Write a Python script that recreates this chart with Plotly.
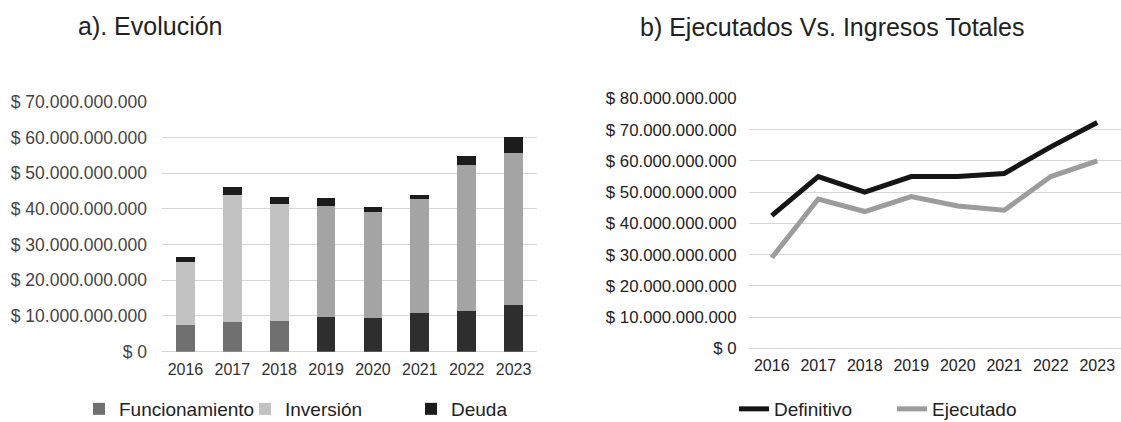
import plotly.graph_objects as go

# ---------------- data ----------------
years = ["2016", "2017", "2018", "2019", "2020", "2021", "2022", "2023"]

funcionamiento = [7.5e9, 8.2e9, 8.7e9, 9.8e9, 9.4e9, 10.8e9, 11.5e9, 13.0e9]
inversion = [17.7e9, 35.7e9, 32.6e9, 31.1e9, 29.6e9, 32.0e9, 40.8e9, 42.7e9]
deuda = [1.4e9, 2.3e9, 2.1e9, 2.1e9, 1.6e9, 1.1e9, 2.5e9, 4.3e9]

definitivo = [42.5e9, 55.0e9, 50.0e9, 55.0e9, 55.0e9, 56.0e9, 64.5e9, 72.3e9]
ejecutado = [29.0e9, 47.8e9, 43.8e9, 48.6e9, 45.6e9, 44.2e9, 55.0e9, 60.0e9]

left_ticks = [0, 10e9, 20e9, 30e9, 40e9, 50e9, 60e9, 70e9]
left_ticktext = ["$ 0", "$ 10.000.000.000", "$ 20.000.000.000", "$ 30.000.000.000",
                 "$ 40.000.000.000", "$ 50.000.000.000", "$ 60.000.000.000", "$ 70.000.000.000"]
right_ticks = [0, 10e9, 20e9, 30e9, 40e9, 50e9, 60e9, 70e9, 80e9]
right_ticktext = ["$ 0", "$ 10.000.000.000", "$ 20.000.000.000", "$ 30.000.000.000",
                  "$ 40.000.000.000", "$ 50.000.000.000", "$ 60.000.000.000",
                  "$ 70.000.000.000", "$ 80.000.000.000"]

title_a = "a). Evolución"
title_b = "b) Ejecutados Vs. Ingresos Totales"

# ---------------- styles ----------------
W, H = 1121, 422
FONT = "Liberation Sans, Arial, sans-serif"
func_colors = ["#707070"] * 3 + ["#2e2e2e"] * 5
inv_colors = ["#c2c2c2"] * 3 + ["#a4a4a4"] * 5
deuda_color = "#1c1c1c"


def px_x(a, b):
    return [a / W, b / W]


def px_y(top, bottom):
    return [(H - bottom) / H, (H - top) / H]


fig = go.Figure()

fig.add_trace(go.Bar(x=years, y=funcionamiento, name="Funcionamiento",
                     marker=dict(color=func_colors, line=dict(width=0)),
                     xaxis="x", yaxis="y", legend="legend"))
fig.add_trace(go.Bar(x=years, y=inversion, name="Inversión",
                     marker=dict(color=inv_colors, line=dict(width=0)),
                     xaxis="x", yaxis="y", legend="legend"))
fig.add_trace(go.Bar(x=years, y=deuda, name="Deuda",
                     marker=dict(color=deuda_color, line=dict(width=0)),
                     xaxis="x", yaxis="y", legend="legend"))

fig.add_trace(go.Scatter(x=years, y=definitivo, name="Definitivo", mode="lines",
                         line=dict(color="#151515", width=5),
                         xaxis="x2", yaxis="y2", legend="legend2"))
fig.add_trace(go.Scatter(x=years, y=ejecutado, name="Ejecutado", mode="lines",
                         line=dict(color="#9c9c9c", width=5),
                         xaxis="x2", yaxis="y2", legend="legend2"))

grid = "#d6d6d6"
axis_font_l = dict(family=FONT, size=17.5, color="#454545")
axis_font_r = dict(family=FONT, size=16.8, color="#222222")
xtick_font_l = dict(family=FONT, size=16, color="#333333")
xtick_font_r = dict(family=FONT, size=16, color="#222222")

fig.update_layout(
    template="none",
    width=W, height=H,
    margin=dict(l=0, r=0, t=0, b=0, autoexpand=False),
    paper_bgcolor="white", plot_bgcolor="white",
    barmode="stack", bargap=0.6,
    font=dict(family=FONT, color="#222"),
    xaxis=dict(domain=px_x(162, 537), type="category", range=[-0.5, 7.5],
               showgrid=False, showline=False, zeroline=False, ticks="",
               tickfont=xtick_font_l, ticklabelstandoff=6, automargin=False,
               anchor="y"),
    yaxis=dict(domain=px_y(101.7, 351.7), range=[0, 70e9], tickvals=left_ticks,
               ticktext=left_ticktext, showgrid=True, gridcolor=grid, gridwidth=1,
               zeroline=True, zerolinecolor=grid, zerolinewidth=1, showline=False,
               tickfont=axis_font_l, ticks="", ticklabelstandoff=14,
               automargin=False, anchor="x"),
    xaxis2=dict(domain=px_x(748.5, 1120.5), type="category", range=[-0.5, 7.5],
                showgrid=False, showline=False, zeroline=False, ticks="",
                tickfont=xtick_font_r, ticklabelstandoff=6, automargin=False,
                anchor="y2"),
    yaxis2=dict(domain=px_y(98.5, 348.3), range=[0, 80e9], tickvals=right_ticks,
                ticktext=right_ticktext, showgrid=True, gridcolor=grid, gridwidth=1,
                zeroline=True, zerolinecolor=grid, zerolinewidth=1, showline=False,
                tickfont=axis_font_r, ticks="", ticklabelstandoff=11,
                automargin=False, anchor="x2"),
    legend=dict(orientation="h", x=79 / W, xanchor="left", y=(H - 409) / H,
                yanchor="middle", font=dict(family=FONT, size=19, color="#222"),
                bgcolor="rgba(0,0,0,0)", traceorder="normal",
                entrywidth=121, entrywidthmode="pixels"),
    legend2=dict(orientation="h", x=734 / W, xanchor="left", y=(H - 409) / H,
                 yanchor="middle", font=dict(family=FONT, size=19, color="#222"),
                 bgcolor="rgba(0,0,0,0)", traceorder="normal",
                 entrywidth=113, entrywidthmode="pixels"),
    annotations=[
        dict(text=title_a, x=150 / W, y=(H - 26) / H, xref="paper", yref="paper",
             xanchor="center", yanchor="middle", showarrow=False,
             font=dict(family=FONT, size=25, color="#222")),
        dict(text=title_b, x=832 / W, y=(H - 27) / H, xref="paper", yref="paper",
             xanchor="center", yanchor="middle", showarrow=False,
             font=dict(family=FONT, size=25, color="#222")),
    ],
)

fig.write_html("out.html",
               config={"displayModeBar": False},
               post_script="document.body.style.margin='0';document.body.style.overflow='hidden';")
